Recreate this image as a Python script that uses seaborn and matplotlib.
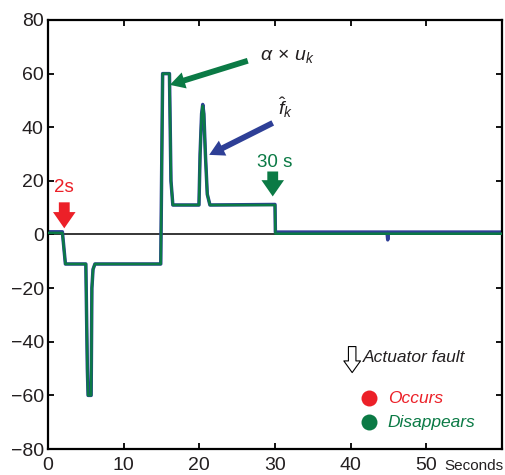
import matplotlib
matplotlib.use("Agg")
import matplotlib.pyplot as plt
import seaborn as sns
import pandas as pd

# ---- data ----
t_green = [0, 1.9, 2.3, 5.0, 5.2, 5.3, 5.7, 5.8, 5.95, 6.2, 14.9, 15.15, 16.05, 16.25, 16.5,
           19.95, 20.1, 20.3, 20.45, 20.6, 20.8, 21.05, 21.4, 30.0, 30.05, 60]
v_green = [0.6, 0.6, -11, -11, -50, -60, -60, -20, -13, -11, -11, 60, 60, 20, 11,
           11, 30, 45, 48, 45, 30, 15, 11, 11, 0.3, 0.3]

t_blue = [0, 1.9, 2.3, 5.0, 5.2, 5.3, 5.7, 5.8, 5.95, 6.2, 14.9, 15.15, 16.05, 16.25, 16.5,
          19.95, 20.1, 20.3, 20.45, 20.6, 20.8, 21.05, 21.4, 30.0, 30.05, 44.8, 44.9, 45.0, 60]
v_blue = [1.0, 1.0, -11, -11, -50, -60, -60, -20, -13, -11, -11, 60, 60, 20, 11,
          11, 30, 45, 48.5, 45, 30, 15, 11, 11.2, 0.9, 0.9, -2, 0.9, 0.9]

x_ticks = [0, 10, 20, 30, 40, 50]
y_ticks = [-80, -60, -40, -20, 0, 20, 40, 60, 80]

GREEN = "#0B7A45"
BLUE = "#2E3F96"
RED = "#EC2028"
DARK = "#231F20"

sns.set_theme(style="white")
plt.rcParams["font.family"] = ["Liberation Sans", "DejaVu Sans"]
plt.rcParams["mathtext.fontset"] = "custom"
plt.rcParams["mathtext.rm"] = "Liberation Sans"
plt.rcParams["mathtext.it"] = "Liberation Sans:italic"

fig = plt.figure(figsize=(5.05, 4.75), dpi=100)
ax = fig.add_axes([48 / 505, 1 - 449 / 475, (502 - 48) / 505, (449 - 20) / 475])

df_b = pd.DataFrame({"t": t_blue, "v": v_blue})
df_g = pd.DataFrame({"t": t_green, "v": v_green})
ax.axhline(0, color="black", lw=1.1, zorder=1)
sns.lineplot(data=df_b, x="t", y="v", sort=False, estimator=None, color=BLUE, lw=2.5, ax=ax, zorder=2)
sns.lineplot(data=df_g, x="t", y="v", sort=False, estimator=None, color=GREEN, lw=1.8, ax=ax, zorder=3)

ax.set_xlim(0, 60)
ax.set_ylim(-80, 80)
ax.set_xticks(x_ticks)
ax.set_yticks(y_ticks)
ax.set_xlabel("")
ax.set_ylabel("")
for s in ax.spines.values():
    s.set_color("black")
    s.set_linewidth(1.6)
ax.tick_params(axis="both", direction="in", length=4, width=1.3, colors="black",
               labelcolor=DARK, labelsize=14, top=True, right=True, bottom=True, left=True)
ax.tick_params(axis="x", pad=6)
ax.tick_params(axis="y", pad=3)
ax.text(0.872, -0.024, "Seconds", transform=ax.transAxes, ha="left", va="top",
        fontsize=11, color=DARK)


def arrow(tip, tail, color, hl, hw, tw, ms, fc=None, ec=None, lw=0):
    props = dict(arrowstyle=f"simple,head_length={hl},head_width={hw},tail_width={tw}",
                 mutation_scale=ms, shrinkA=0, shrinkB=0, lw=lw)
    if fc is None:
        props["color"] = color
    else:
        props["facecolor"] = fc
        props["edgecolor"] = ec
    ax.annotate("", xy=tip, xytext=tail, arrowprops=props)


# fault arrows
arrow((2.15, 2.3), (2.15, 12.0), RED, 0.9, 1.25, 0.6, 13)
ax.text(2.15, 17.5, "2s", color=RED, fontsize=13.5, ha="center", va="center")
arrow((29.7, 14.2), (29.7, 23.5), GREEN, 0.9, 1.25, 0.6, 13)
ax.text(30.0, 27, "30 s", color=GREEN, fontsize=13.5, ha="center", va="center")

# pointer arrows
arrow((16.1, 55.8), (26.4, 64.8), GREEN, 0.9, 1.0, 0.35, 12)
ax.text(28.0, 66.5, r"$\alpha\,\times\,u_k$", color=DARK, fontsize=14, ha="left", va="center")
arrow((21.3, 29.7), (29.7, 41.6), BLUE, 0.9, 1.0, 0.35, 12)
ax.text(30.4, 47.5, r"$\hat{f}_k$", color=DARK, fontsize=14, ha="left", va="center")

# legend-like annotation
arrow((40.2, -51.5), (40.2, -41.8), None, 0.7, 1.0, 0.45, 12, fc="white", ec="black", lw=0.8)
ax.text(41.6, -45.8, "Actuator fault", color=DARK, fontsize=12.5, style="italic", ha="left", va="center")
ax.plot([42.4], [-61], "o", color=RED, ms=11.5, mec="none")
ax.plot([42.4], [-70], "o", color=GREEN, ms=11.5, mec="none")
ax.text(44.9, -61, "Occurs", color=RED, fontsize=12.5, style="italic", ha="left", va="center")
ax.text(44.9, -70, "Disappears", color=GREEN, fontsize=12.5, style="italic", ha="left", va="center")

fig.savefig("out.png", dpi=100)
